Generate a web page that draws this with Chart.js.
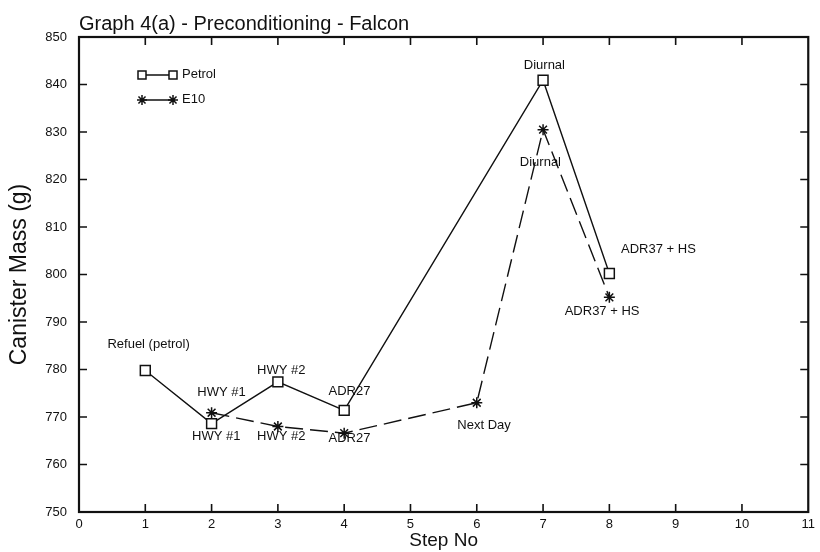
<!DOCTYPE html>
<html>
<head>
<meta charset="utf-8">
<script src="https://cdn.jsdelivr.net/npm/chart.js@4/dist/chart.umd.min.js"></script>
<style>
  body { margin: 0; background: #fff; }
</style>
</head>
<body>
<canvas id="myChart" width="820" height="552"></canvas>
<script>
const petrolSteps = [1, 2, 3, 4, 7, 8]
const petrolMass = [779.8, 768.6, 777.4, 771.4, 840.9, 800.2]

const e10Steps = [2, 3, 4, 6, 7, 8]
const e10Mass = [770.9, 768.0, 766.6, 773.0, 830.5, 795.2]

// point annotations, placed in step / mass units
const noteText = [
  'Refuel (petrol)', 'HWY #1', 'HWY #2', 'ADR27', 'Diurnal', 'ADR37 + HS',
  'HWY #1', 'HWY #2', 'ADR27', 'Next Day', 'Diurnal', 'ADR37 + HS'
]
const noteStep = [1.05, 2.15, 3.05, 4.08, 7.02, 8.74, 2.07, 3.05, 4.08, 6.11, 6.96, 7.89]
const noteMass = [785.2, 775.1, 779.9, 775.3, 844.1, 805.2, 765.9, 765.9, 765.5, 768.3, 823.7, 792.2]

const xTicks = [0, 1, 2, 3, 4, 5, 6, 7, 8, 9, 10, 11]
const yTicks = [750, 760, 770, 780, 790, 800, 810, 820, 830, 840, 850]

const FONT = 'Liberation Sans, Arial, sans-serif'
const INK = '#111'

function toPoints(xs, ys) {
  return xs.map((x, i) => ({ x: x, y: ys[i] }))
}

function drawStar(ctx, x, y, r) {
  const d = r * Math.SQRT1_2
  ctx.beginPath()
  ctx.moveTo(x - r, y); ctx.lineTo(x + r, y)
  ctx.moveTo(x, y - r); ctx.lineTo(x, y + r)
  ctx.moveTo(x - d, y - d); ctx.lineTo(x + d, y + d)
  ctx.moveTo(x - d, y + d); ctx.lineTo(x + d, y - d)
  ctx.stroke()
}

function drawSquare(ctx, x, y, s) {
  ctx.fillStyle = '#fff'
  ctx.fillRect(x - s / 2, y - s / 2, s, s)
  ctx.strokeRect(x - s / 2, y - s / 2, s, s)
}

// box round the plot, inward ticks on all four sides, title, notes and key
const gnuplotLook = {
  id: 'gnuplotLook',
  afterDatasetsDraw(chart) {
    const ctx = chart.ctx
    const a = chart.chartArea
    const xs = chart.scales.x
    const ys = chart.scales.y
    const tick = 8

    ctx.save()
    ctx.strokeStyle = INK
    ctx.lineWidth = 1.6
    xTicks.slice(1, -1).forEach(v => {
      const px = xs.getPixelForValue(v)
      ctx.beginPath()
      ctx.moveTo(px, a.bottom); ctx.lineTo(px, a.bottom - tick)
      ctx.moveTo(px, a.top); ctx.lineTo(px, a.top + tick)
      ctx.stroke()
    })
    yTicks.slice(1, -1).forEach(v => {
      const py = ys.getPixelForValue(v)
      ctx.beginPath()
      ctx.moveTo(a.left, py); ctx.lineTo(a.left + tick, py)
      ctx.moveTo(a.right, py); ctx.lineTo(a.right - tick, py)
      ctx.stroke()
    })
    ctx.lineWidth = 2.2
    ctx.strokeRect(a.left, a.top, a.right - a.left, a.bottom - a.top)

    ctx.fillStyle = INK
    ctx.font = '13px ' + FONT
    ctx.textAlign = 'center'
    ctx.textBaseline = 'middle'
    noteText.forEach((t, i) => {
      ctx.fillText(t, xs.getPixelForValue(noteStep[i]), ys.getPixelForValue(noteMass[i]))
    })

    // key, top left inside the plot
    const kx = a.left + 63
    const ky = a.top + 38
    ctx.lineWidth = 1.5
    ctx.beginPath()
    ctx.moveTo(kx, ky); ctx.lineTo(kx + 31, ky)
    ctx.moveTo(kx, ky + 25); ctx.lineTo(kx + 31, ky + 25)
    ctx.stroke()
    drawSquare(ctx, kx, ky, 8)
    drawSquare(ctx, kx + 31, ky, 8)
    drawStar(ctx, kx, ky + 25, 5)
    drawStar(ctx, kx + 31, ky + 25, 5)
    ctx.fillStyle = INK
    ctx.textAlign = 'left'
    ctx.fillText('Petrol', kx + 40, ky - 1)
    ctx.fillText('E10', kx + 40, ky + 24)

    ctx.font = '20px ' + FONT
    ctx.textBaseline = 'alphabetic'
    ctx.fillText('Graph 4(a) - Preconditioning - Falcon', a.left, 30)
    ctx.restore()
  }
}

new Chart(document.getElementById('myChart').getContext('2d'), {
  type: 'line',
  data: {
    datasets: [
      {
        label: 'Petrol',
        data: toPoints(petrolSteps, petrolMass),
        borderColor: INK,
        borderWidth: 1.4,
        pointStyle: 'rect',
        pointRadius: 7,
        pointBorderWidth: 1.5,
        pointBorderColor: INK,
        pointBackgroundColor: '#fff'
      },
      {
        label: 'E10',
        data: toPoints(e10Steps, e10Mass),
        borderColor: INK,
        borderWidth: 1.4,
        borderDash: [18, 7],
        pointStyle: 'star',
        pointRadius: 5.5,
        pointBorderWidth: 1.5,
        pointBorderColor: INK
      }
    ]
  },
  options: {
    responsive: false,
    animation: false,
    layout: { padding: { top: 37, right: 10, left: 0, bottom: 0 } },
    plugins: {
      legend: { display: false },
      tooltip: { enabled: false }
    },
    scales: {
      x: {
        type: 'linear',
        min: 0,
        max: 11,
        afterBuildTicks: s => { s.ticks = xTicks.map(v => ({ value: v })) },
        afterFit: s => { s.height = 40 },
        grid: { display: false, drawTicks: false },
        border: { display: false },
        ticks: { padding: 5, color: INK, font: { family: FONT, size: 13 } },
        title: {
          display: true,
          text: 'Step No',
          color: INK,
          padding: { top: 0, bottom: 0 },
          font: { family: FONT, size: 19 }
        }
      },
      y: {
        min: 750,
        max: 850,
        afterBuildTicks: s => { s.ticks = yTicks.map(v => ({ value: v })) },
        afterFit: s => { s.width = 79 },
        grid: { display: false, drawTicks: false },
        border: { display: false },
        ticks: { padding: 12, color: INK, font: { family: FONT, size: 13 } },
        title: {
          display: true,
          text: 'Canister Mass (g)',
          color: INK,
          padding: { top: 6, bottom: 0 },
          font: { family: FONT, size: 23 }
        }
      }
    }
  },
  plugins: [gnuplotLook]
})
</script>
</body>
</html>
